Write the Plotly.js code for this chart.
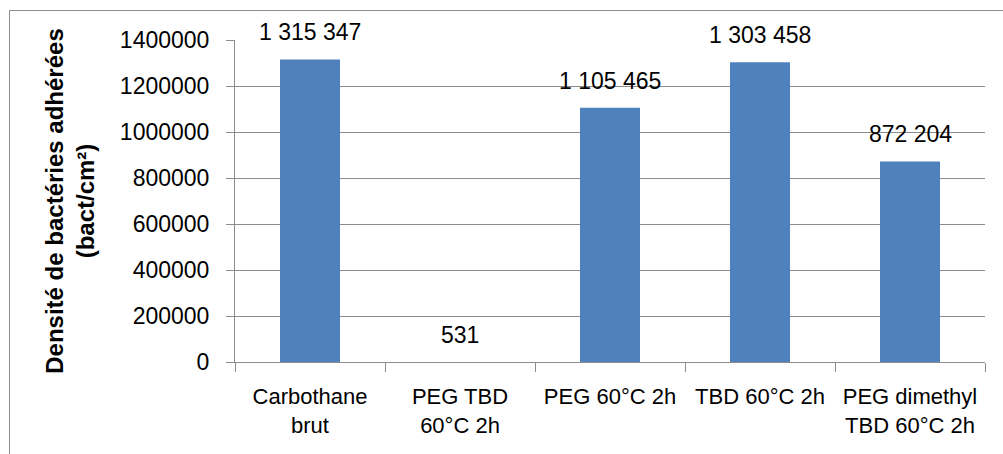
<!DOCTYPE html>
<html>
<head>
<meta charset="utf-8">
<script src="https://cdn.plot.ly/plotly-3.0.1.min.js"></script>
<style>html,body{margin:0;padding:0;background:#fff;}#chart{width:1003px;height:454px;}</style>
</head>
<body>
<div id="chart"></div>
<script>
var categories = ["Carbothane<br>brut", "PEG TBD<br>60°C 2h", "PEG 60°C 2h", "TBD 60°C 2h", "PEG dimethyl<br>TBD 60°C 2h"];
var densities = [1315347, 531, 1105465, 1303458, 872204];
var yTickValues = [0, 200000, 400000, 600000, 800000, 1000000, 1200000, 1400000];
var yTitle = "Densité de bactéries adhérées<br>(bact/cm²)";

function fmt(v) {
  return String(v).replace(/\B(?=(\d{3})+(?!\d))/g, " ");
}

var FONT = "Liberation Sans, Arial, sans-serif";
var GRID = "#8c8c8c";

var trace = {
  type: "bar",
  x: categories,
  y: densities,
  marker: {color: "#4F81BD"},
  width: 0.4,
  hoverinfo: "x+y"
};

var annotations = categories.map(function (c, i) {
  return {
    x: c, y: densities[i], xref: "x", yref: "y",
    text: fmt(densities[i]), showarrow: false,
    yanchor: "bottom", yshift: 12,
    font: {family: FONT, size: 23, color: "#000"}
  };
});

var layout = {
  width: 1003, height: 454,
  margin: {l: 235, r: 18, t: 40, b: 92},
  paper_bgcolor: "#fff", plot_bgcolor: "#fff",
  showlegend: false,
  bargap: 0.6,
  xaxis: {
    type: "category",
    tickson: "boundaries",
    ticks: "outside", ticklen: 9, tickcolor: GRID, tickwidth: 1,
    showline: true, linecolor: GRID, linewidth: 1,
    showgrid: false,
    tickfont: {family: FONT, size: 22, color: "#000"},
    ticklabelstandoff: 15
  },
  yaxis: {
    range: [0, 1400000],
    tickvals: yTickValues,
    ticktext: yTickValues.map(String),
    ticks: "outside", ticklen: 8, tickcolor: GRID, tickwidth: 1,
    showline: true, linecolor: GRID, linewidth: 1,
    showgrid: true, gridcolor: GRID, gridwidth: 1,
    zeroline: false,
    ticklabelstandoff: 12,
    tickfont: {family: FONT, size: 23, color: "#000"},
    title: {text: "<b>" + yTitle + "</b>", font: {family: FONT, size: 24, color: "#000"}, standoff: 18}
  },
  annotations: annotations,
  shapes: [{
    type: "rect", xref: "paper", yref: "paper",
    x0: (9.5 - 235) / 750, x1: (1010 - 235) / 750,
    y0: (362 - 470) / 322, y1: (362 - 10.5) / 322,
    line: {color: "#8c8c8c", width: 1}, fillcolor: "rgba(0,0,0,0)", layer: "below"
  }]
};

Plotly.newPlot("chart", [trace], layout, {displayModeBar: false, staticPlot: true});
</script>
</body>
</html>
